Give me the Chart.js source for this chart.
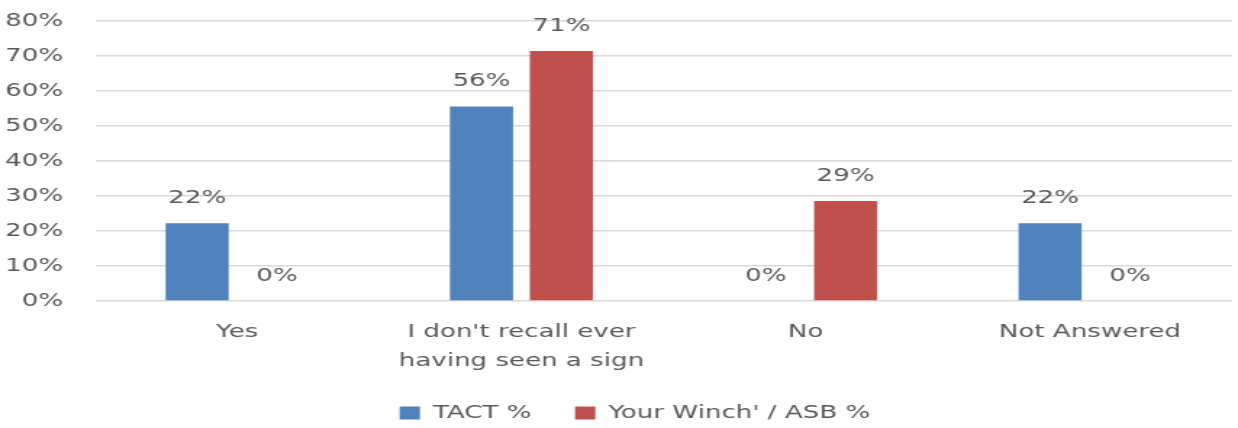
<!DOCTYPE html>
<html>
<head>
<meta charset="utf-8">
<script src="https://cdn.jsdelivr.net/npm/chart.js@4/dist/chart.umd.min.js"></script>
<style>
  html, body { margin: 0; padding: 0; background: #fff; overflow: hidden; }
  /* the reference text is drawn wide, so the chart is laid out narrower and stretched */
  #wrap { width: 854px; height: 428px; transform: scaleX(1.4496); transform-origin: 0 0; }
</style>
</head>
<body>
<div id="wrap"><canvas id="chart"></canvas></div>
<script>
// Categories and series
const categories = ['Yes', ["I don't recall ever", 'having seen a sign'], 'No', 'Not Answered'];
const tactValues = [22.2, 55.6, 0, 22.2];
const winchValues = [0, 71.4, 28.6, 0];
const seriesNames = ['TACT %', "Your Winch' / ASB %"];
const yTicks = [0, 10, 20, 30, 40, 50, 60, 70, 80];

const textColor = '#595959';
const fontFamily = "'DejaVu Sans', sans-serif";

// Draw the % label above each bar
const valueLabels = {
    id: 'valueLabels',
    afterDatasetsDraw(chart) {
        const ctx = chart.ctx;
        ctx.save();
        ctx.font = '18px ' + fontFamily;
        ctx.fillStyle = textColor;
        ctx.textAlign = 'center';
        ctx.textBaseline = 'bottom';
        chart.data.datasets.forEach((ds, i) => {
            chart.getDatasetMeta(i).data.forEach((bar, j) => {
                ctx.fillText(Math.round(ds.data[j]) + '%', bar.x, bar.y - 16);
            });
        });
        ctx.restore();
    }
};

// The legend sits a little right of centre in the reference
const legendShift = {
    id: 'legendShift',
    afterLayout(chart) {
        if (chart.legend) {
            chart.legend.left += 13;
            chart.legend.right += 13;
        }
    }
};

const ctx = document.getElementById('chart').getContext('2d');
new Chart(ctx, {
    type: 'bar',
    data: {
        labels: categories,
        datasets: [{
            label: seriesNames[0],
            data: tactValues,
            backgroundColor: '#4F81BD',
            categoryPercentage: 0.562,
            barPercentage: 0.79
        }, {
            label: seriesNames[1],
            data: winchValues,
            backgroundColor: '#C0504D',
            categoryPercentage: 0.562,
            barPercentage: 0.79
        }]
    },
    options: {
        responsive: true,
        maintainAspectRatio: false,
        animation: false,
        layout: { padding: { top: 21, right: 4, left: 0, bottom: -4 } },
        plugins: {
            tooltip: { enabled: false },
            legend: {
                position: 'bottom',
                labels: {
                    color: textColor,
                    font: { family: fontFamily, size: 18 },
                    boxWidth: 14,
                    boxHeight: 13,
                    padding: 30
                }
            }
        },
        scales: {
            x: {
                grid: { display: false },
                border: { display: false },
                ticks: {
                    color: textColor,
                    font: { family: fontFamily, size: 18, lineHeight: 1.65 },
                    padding: 8,
                    maxRotation: 0
                },
                afterFit(scale) { scale.height = 73; }
            },
            y: {
                min: 0,
                max: 80,
                afterBuildTicks(scale) { scale.ticks = yTicks.map(v => ({ value: v })); },
                // invisible tick marks keep the labels away from the plot
                grid: { color: '#d9d9d9', lineWidth: 1.5, drawTicks: true, tickLength: 22, tickColor: 'rgba(0,0,0,0)' },
                border: { display: false },
                ticks: {
                    color: textColor,
                    font: { family: fontFamily, size: 18 },
                    padding: 0,
                    callback: v => v + '%'
                },
                afterFit(scale) { scale.width = 65.5; }
            }
        }
    },
    plugins: [valueLabels, legendShift]
});
</script>
</body>
</html>
